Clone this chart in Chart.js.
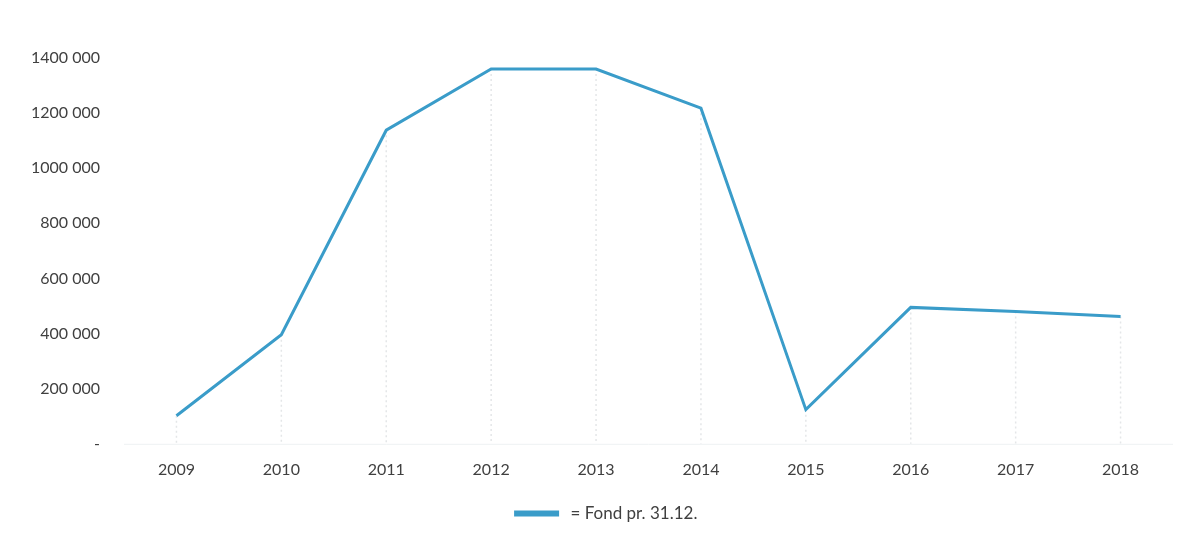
<!DOCTYPE html>
<html>
<head>
<meta charset="utf-8">
<script src="https://cdn.jsdelivr.net/npm/chart.js@4"></script>
<style>
html,body{margin:0;padding:0;background:#fff;}
#wrap{width:1192px;height:539px;}
</style>
</head>
<body>
<div id="wrap"><canvas id="c" width="1192" height="539"></canvas></div>
<script>
const categories = ['2009','2010','2011','2012','2013','2014','2015','2016','2017','2018'];
const fondValues = [102000, 396000, 1138000, 1360000, 1360000, 1218000, 124000, 495000, 480000, 462000];
const seriesLabel = ' = Fond pr. 31.12.';
const yTickValues = [0, 200000, 400000, 600000, 800000, 1000000, 1200000, 1400000];
const yTickLabels = ['-', '200 000', '400 000', '600 000', '800 000', '1000 000', '1200 000', '1400 000'];

const lineColor = '#3a9cc9';
const textColor = '#404040';
const fontFamily = 'Lato, "Open Sans", sans-serif';

const dropLines = {
  id: 'dropLines',
  beforeDatasetsDraw(chart) {
    const ctx = chart.ctx;
    const meta = chart.getDatasetMeta(0);
    const y0 = chart.scales.y.getPixelForValue(0);
    ctx.save();
    ctx.strokeStyle = '#e4e6e8';
    ctx.lineWidth = 1.5;
    ctx.setLineDash([2, 3]);
    meta.data.forEach(p => {
      ctx.beginPath();
      ctx.moveTo(p.x, p.y);
      ctx.lineTo(p.x, y0);
      ctx.stroke();
    });
    ctx.setLineDash([]);
    ctx.strokeStyle = '#eef1f3';
    ctx.lineWidth = 1;
    ctx.beginPath();
    ctx.moveTo(chart.chartArea.left, y0 + 0.5);
    ctx.lineTo(chart.chartArea.right, y0 + 0.5);
    ctx.stroke();
    ctx.restore();
  }
};

const legendShift = {
  id: 'legendShift',
  afterLayout(chart) {
    if (chart.legend) {
      chart.legend.left += 20;
      chart.legend.right += 20;
    }
  }
};

new Chart(document.getElementById('c'), {
  type: 'line',
  data: {
    labels: categories,
    datasets: [{
      label: seriesLabel,
      data: fondValues,
      borderColor: lineColor,
      backgroundColor: lineColor,
      borderWidth: 3,
      pointRadius: 0,
      tension: 0
    }]
  },
  options: {
    responsive: false,
    animation: false,
    devicePixelRatio: 1,
    layout: { padding: { top: 58, right: 19, left: 0, bottom: 7 } },
    plugins: {
      legend: {
        position: 'bottom',
        labels: {
          color: textColor,
          font: { family: fontFamily, size: 17 },
          boxWidth: 42,
          boxHeight: 3,
          padding: 18
        }
      },
      tooltip: { enabled: false }
    },
    scales: {
      x: {
        offset: true,
        grid: { display: false },
        border: { display: false },
        ticks: { color: textColor, font: { family: fontFamily, size: 16 }, padding: 8 }
      },
      y: {
        min: 0,
        max: 1400000,
        afterBuildTicks(scale) { scale.ticks = yTickValues.map(v => ({ value: v })); },
        afterFit(scale) { scale.width = 124; },
        grid: { display: false, drawTicks: false },
        border: { display: false },
        ticks: {
          color: textColor,
          font: { family: fontFamily, size: 16 },
          padding: 24,
          callback: (v) => { const i = yTickValues.indexOf(v); return i >= 0 ? yTickLabels[i] : ''; }
        }
      }
    }
  },
  plugins: [dropLines, legendShift]
});
</script>
</body>
</html>
